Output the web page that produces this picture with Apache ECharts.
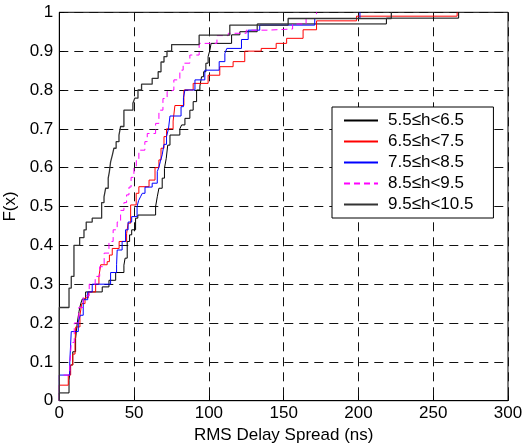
<!DOCTYPE html>
<html>
<head>
<meta charset="utf-8">
<script src="https://cdn.jsdelivr.net/npm/echarts@6/dist/echarts.min.js"></script>
<style>
  html, body { margin: 0; padding: 0; background: #fff; }
  #chart { width: 529px; height: 448px; }
</style>
</head>
<body>
<div id="chart"></div>
<script>
// step points [delay spread (ns), F(x)]
var h55 = [[0,0],[0,0.02],[6.5,0.053],[7.6,0.092],[9,0.126],[10.9,0.16],[12,0.2],[13.2,0.23],[14.3,0.25],[15.4,0.262],[17.6,0.28],[28.7,0.293],[33.2,0.31],[37.7,0.33],[43.2,0.349],[44,0.367],[45.4,0.41],[47,0.427],[48.4,0.44],[51,0.47],[52.5,0.478],[64.4,0.5],[65.5,0.525],[66.6,0.547],[68.8,0.573],[70.3,0.598],[71.5,0.624],[72.5,0.658],[74,0.684],[80.6,0.7],[81.8,0.71],[84,0.727],[87.3,0.748],[89.5,0.77],[91.8,0.8],[94,0.81],[95.1,0.834],[96.5,0.847],[98,0.869],[99.5,0.886],[100.7,0.903],[101.5,0.92],[115.2,0.942],[120.7,0.95],[132.3,0.97],[218.7,0.985],[267,1]];
var h65 = [[0,0],[0,0.04],[6,0.066],[7.6,0.092],[9,0.12],[10.5,0.15],[11,0.19],[13.8,0.22],[15,0.25],[17.2,0.265],[19.4,0.28],[24.3,0.3],[26.5,0.32],[27.7,0.35],[32,0.358],[33.5,0.375],[35.4,0.392],[40,0.41],[45,0.43],[46,0.457],[47.7,0.504],[51.4,0.534],[53.2,0.551],[60,0.568],[64,0.6],[66.6,0.62],[68,0.65],[70,0.68],[71.7,0.7],[76.1,0.72],[77.3,0.76],[83.3,0.8],[89.5,0.817],[99.5,0.838],[107.3,0.86],[116.2,0.873],[124,0.9],[135,0.907],[145,0.92],[152,0.933],[163,0.955],[172,0.978],[198.7,0.99],[266,1]];
var h75 = [[0,0],[0,0.066],[7,0.1],[8,0.178],[12.7,0.203],[14,0.22],[16,0.26],[19,0.28],[22,0.3],[34.3,0.33],[38.3,0.35],[38.7,0.388],[42,0.41],[44.3,0.44],[46,0.46],[48.4,0.474],[52,0.5],[53,0.515],[54.3,0.525],[55.5,0.534],[57.3,0.55],[62.1,0.56],[65.5,0.59],[66.5,0.6],[67.5,0.615],[68.8,0.633],[70,0.66],[71.7,0.68],[73,0.7],[74,0.733],[81.4,0.757],[83,0.78],[84,0.8],[90.7,0.826],[97.3,0.851],[106.9,0.873],[110.7,0.894],[112,0.907],[121.8,0.93],[126.3,0.954],[134,0.967],[170.8,0.984],[201,1]];
var h85 = [[0,0],[0,0.066],[7,0.09],[8,0.15],[10,0.2],[13,0.24],[16,0.27],[20,0.3],[24,0.32],[27,0.345],[30,0.38],[33.2,0.41],[36,0.44],[38.7,0.46],[41,0.49],[43.2,0.51],[45,0.53],[46.6,0.55],[48,0.575],[49.9,0.6],[51.5,0.62],[53.2,0.645],[57.2,0.667],[58.8,0.688],[64.4,0.714],[66.6,0.748],[69.3,0.778],[72.1,0.796],[74,0.8],[76.6,0.826],[80.6,0.851],[82.8,0.869],[87.3,0.89],[93.5,0.92],[105.4,0.94],[113,0.946],[125,0.954],[139,0.957],[156,0.97],[165,0.984],[172,1]];
var h95 = [[0,0],[0,0.24],[6.5,0.29],[8,0.32],[9.8,0.4],[13.6,0.42],[16.5,0.44],[18,0.46],[22,0.47],[28.3,0.51],[29.9,0.525],[31,0.547],[32.7,0.573],[33.5,0.59],[34.3,0.615],[35.5,0.633],[36.5,0.65],[38,0.667],[39.9,0.684],[41,0.706],[43.2,0.748],[49.2,0.766],[50.5,0.779],[52.6,0.8],[55,0.815],[62.1,0.83],[66.1,0.847],[68,0.872],[70,0.886],[72,0.9],[75.1,0.917],[93.5,0.941],[114,0.967],[153,0.984],[222,1]];

var names = ['5.5≤h<6.5', '6.5≤h<7.5', '7.5≤h<8.5', '8.5≤h<9.5', '9.5≤h<10.5'];
var xTicks = [0, 50, 100, 150, 200, 250, 300];
var yTicks = [0, 0.1, 0.2, 0.3, 0.4, 0.5, 0.6, 0.7, 0.8, 0.9, 1];

var font = 'Liberation Sans, Arial, sans-serif';
var gridLine = { show: true, lineStyle: { color: '#111', width: 1, type: [9, 6] } };

function stepLine(name, data, color, dash, width) {
  return {
    name: name,
    type: 'line',
    step: 'end',
    symbol: 'none',
    showSymbol: false,
    data: data,
    lineStyle: { color: color, width: width || 1, type: dash || 'solid' },
    itemStyle: { color: color }
  };
}

var chart = echarts.init(document.getElementById('chart'));
chart.setOption({
  animation: false,
  backgroundColor: '#fff',
  textStyle: { fontFamily: font },
  grid: {
    left: 59.3, right: 21, top: 12.3, bottom: 47.3,
    outerBoundsMode: 'none',
    containLabel: false,
    show: true, borderColor: '#000', borderWidth: 1
  },
  legend: {
    orient: 'vertical',
    left: 332, top: 107,
    padding: [5, 20, 5, 11],
    itemGap: 4,
    itemWidth: 34,
    itemHeight: 14,
    backgroundColor: '#fff',
    borderColor: '#000',
    borderWidth: 1,
    borderRadius: 0,
    itemStyle: { opacity: 0 },
    textStyle: { color: '#000', fontSize: 17, fontFamily: font, padding: [0, 0, 0, 5] },
    data: names
  },
  xAxis: {
    type: 'value',
    min: xTicks[0], max: xTicks[xTicks.length - 1], interval: 50,
    name: 'RMS Delay Spread (ns)',
    nameLocation: 'middle',
    nameGap: 26,
    nameTextStyle: { color: '#000', fontSize: 17, fontFamily: font },
    axisLine: { lineStyle: { color: '#000' } },
    axisTick: { inside: true, length: 5, lineStyle: { color: '#000' } },
    axisLabel: { color: '#000', fontSize: 17, fontFamily: font, margin: 4 },
    splitLine: gridLine
  },
  yAxis: {
    type: 'value',
    min: yTicks[0], max: yTicks[yTicks.length - 1], interval: 0.1,
    name: 'F(x)',
    nameLocation: 'middle',
    nameGap: 31,
    nameTextStyle: { color: '#000', fontSize: 17, fontFamily: font },
    axisLine: { show: true, lineStyle: { color: '#000' } },
    axisTick: { show: true, inside: true, length: 5, lineStyle: { color: '#000' } },
    axisLabel: { color: '#000', fontSize: 17, fontFamily: font, margin: 6 },
    splitLine: gridLine
  },
  series: [
    stepLine(names[0], h55, '#000000', 'solid', 1),
    stepLine(names[1], h65, '#ff0000', 'solid', 1),
    stepLine(names[2], h75, '#0000ff', 'solid', 1),
    stepLine(names[3], h85, '#ff00ff', [6, 4], 1),
    stepLine(names[4], h95, '#333333', 'solid', 1.3)
  ]
});
</script>
</body>
</html>
